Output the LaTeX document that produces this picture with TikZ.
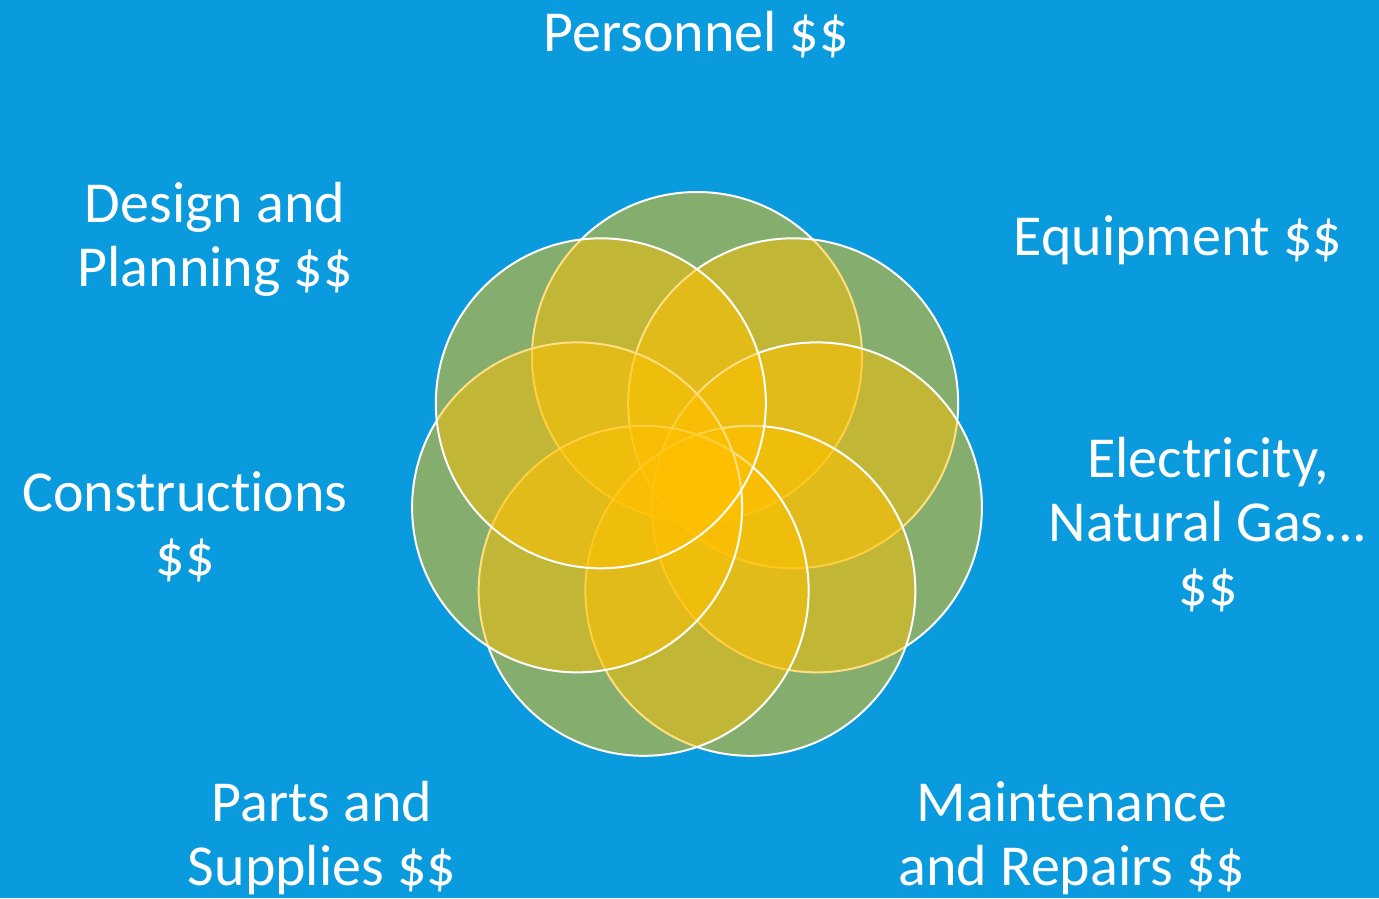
\documentclass[tikz,border=0pt]{standalone}
\usepackage{fontspec}
\setmainfont{Carlito}[Ligatures=NoCommon]
\usetikzlibrary{calc}

\definecolor{bgblue}{RGB}{10,155,222}
\definecolor{petalgold}{RGB}{255,192,0}

\tikzset{
	petal/.style={fill=petalgold, fill opacity=0.5, draw=white, line width=2pt},
	cost/.style={text=white, font=\fontsize{58}{64}\selectfont, align=center, anchor=base},
}

\begin{document}
\begin{tikzpicture}[x=1pt,y=1pt]
		\fill[bgblue] (0,0) rectangle (1379,898);
		\useasboundingbox (0,0) rectangle (1379,898);

		% seven petals round the middle
		\coordinate (O) at (697,418);
		\foreach \ang [count=\i] in {90,38.57,-12.86,-64.29,-115.71,-167.14,141.43}{
			\coordinate (c\i) at ($(O)+(\ang:123)$);
			\filldraw[petal] (c\i) circle[radius=165pt];
		}

		% cost labels (base = last line)
		\node[cost] (personnel) at (696,846) {Personnel \$\$};
		\node[cost] (design) at (215,611) {Design and\\Planning \$\$};
		\node[cost] (equipment) at (1178,642) {Equipment \$\$};
		\node[cost] (energy) at (1208,293) {Electricity,\\Natural Gas...\\\$\$};
		\node[cost] (construction) at (185,323) {Constructions\\\$\$};
		\node[cost] (parts) at (322,13) {Parts and\\Supplies \$\$};
		\node[cost] (repairs) at (1072,13) {Maintenance\\and Repairs \$\$};
	\end{tikzpicture}
\end{document}
